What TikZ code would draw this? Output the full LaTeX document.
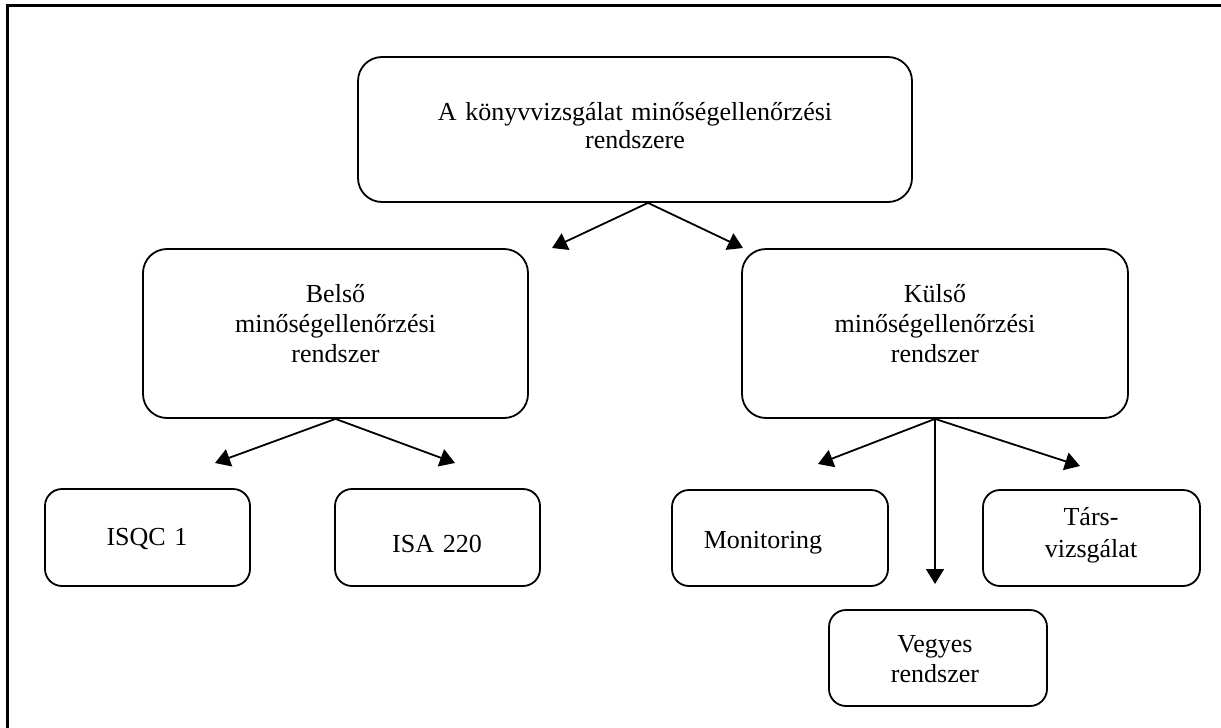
\documentclass[tikz,border=0pt]{standalone}
\usepackage{fontspec}
\setmainfont{Liberation Serif}
\usetikzlibrary{arrows.meta}
\begin{document}
\begin{tikzpicture}[x=1pt,y=-1pt,
  box/.style={draw, line width=1.8pt, rounded corners=24pt, inner sep=0pt},
  sbox/.style={draw, line width=1.8pt, rounded corners=17pt, inner sep=0pt},
  txt/.style={font=\fontsize{26}{30}\selectfont, align=center, inner sep=0pt, text width=520pt, anchor=base},
  arr/.style={line width=1.8pt, -{Triangle[length=15pt,width=18pt]}},
  frame/.style={line width=3pt}
]
\useasboundingbox (0,0) rectangle (1221,728);
\draw[frame] (7,728) -- (7,5) -- (1221,5);

% boxes
\node[box, minimum width=554pt, minimum height=145pt] (top) at (635,129.5) {};
\node[box, minimum width=385pt, minimum height=169pt] (belso) at (335.5,333.5) {};
\node[box, minimum width=386pt, minimum height=169pt] (kulso) at (935,333.5) {};
\node[sbox, minimum width=205pt, minimum height=97pt] (isqc) at (147.5,537.5) {};
\node[sbox, minimum width=205pt, minimum height=97pt] (isa) at (437.5,537.5) {};
\node[sbox, minimum width=216pt, minimum height=96pt] (mon) at (780,538) {};
\node[sbox, minimum width=217pt, minimum height=96pt] (tars) at (1091.5,538) {};
\node[sbox, minimum width=218pt, minimum height=96pt] (veg) at (938,658) {};

% texts
\node[txt, font=\fontsize{26}{28}\selectfont] (topt) at (635,120) {A könyvvizsgálat minőségellenőrzési\\rendszere};
\node[txt, font=\fontsize{26}{30}\selectfont] (belsot) at (335.5,302) {Belső\\minőségellenőrzési\\rendszer};
\node[txt, font=\fontsize{26}{30}\selectfont] (kulsot) at (935,302) {Külső\\minőségellenőrzési\\rendszer};
\node[txt] (isqct) at (147,545) {ISQC 1};
\node[txt] (isat) at (437,552) {ISA 220};
\node[txt] (mont) at (763,548) {Monitoring};
\node[txt, font=\fontsize{26}{32}\selectfont] (tarst) at (1091,525) {Társ-\\vizsgálat};
\node[txt] (vegt) at (935,652) {Vegyes\\rendszer};

% free arrow ends
\coordinate (a1) at (552,248);
\coordinate (a2) at (743,248);
\coordinate (b1) at (215,463);
\coordinate (b2) at (455,463);
\coordinate (c1) at (818,464);
\coordinate (c2) at (935,584);
\coordinate (c3) at (1080,466);

\draw[arr] ([xshift=13pt]top.south) -- (a1);
\draw[arr] ([xshift=13pt]top.south) -- (a2);
\draw[arr] (belso.south) -- (b1);
\draw[arr] (belso.south) -- (b2);
\draw[arr] (kulso.south) -- (c1);
\draw[arr] (kulso.south) -- (c2);
\draw[arr] (kulso.south) -- (c3);
\end{tikzpicture}
\end{document}
